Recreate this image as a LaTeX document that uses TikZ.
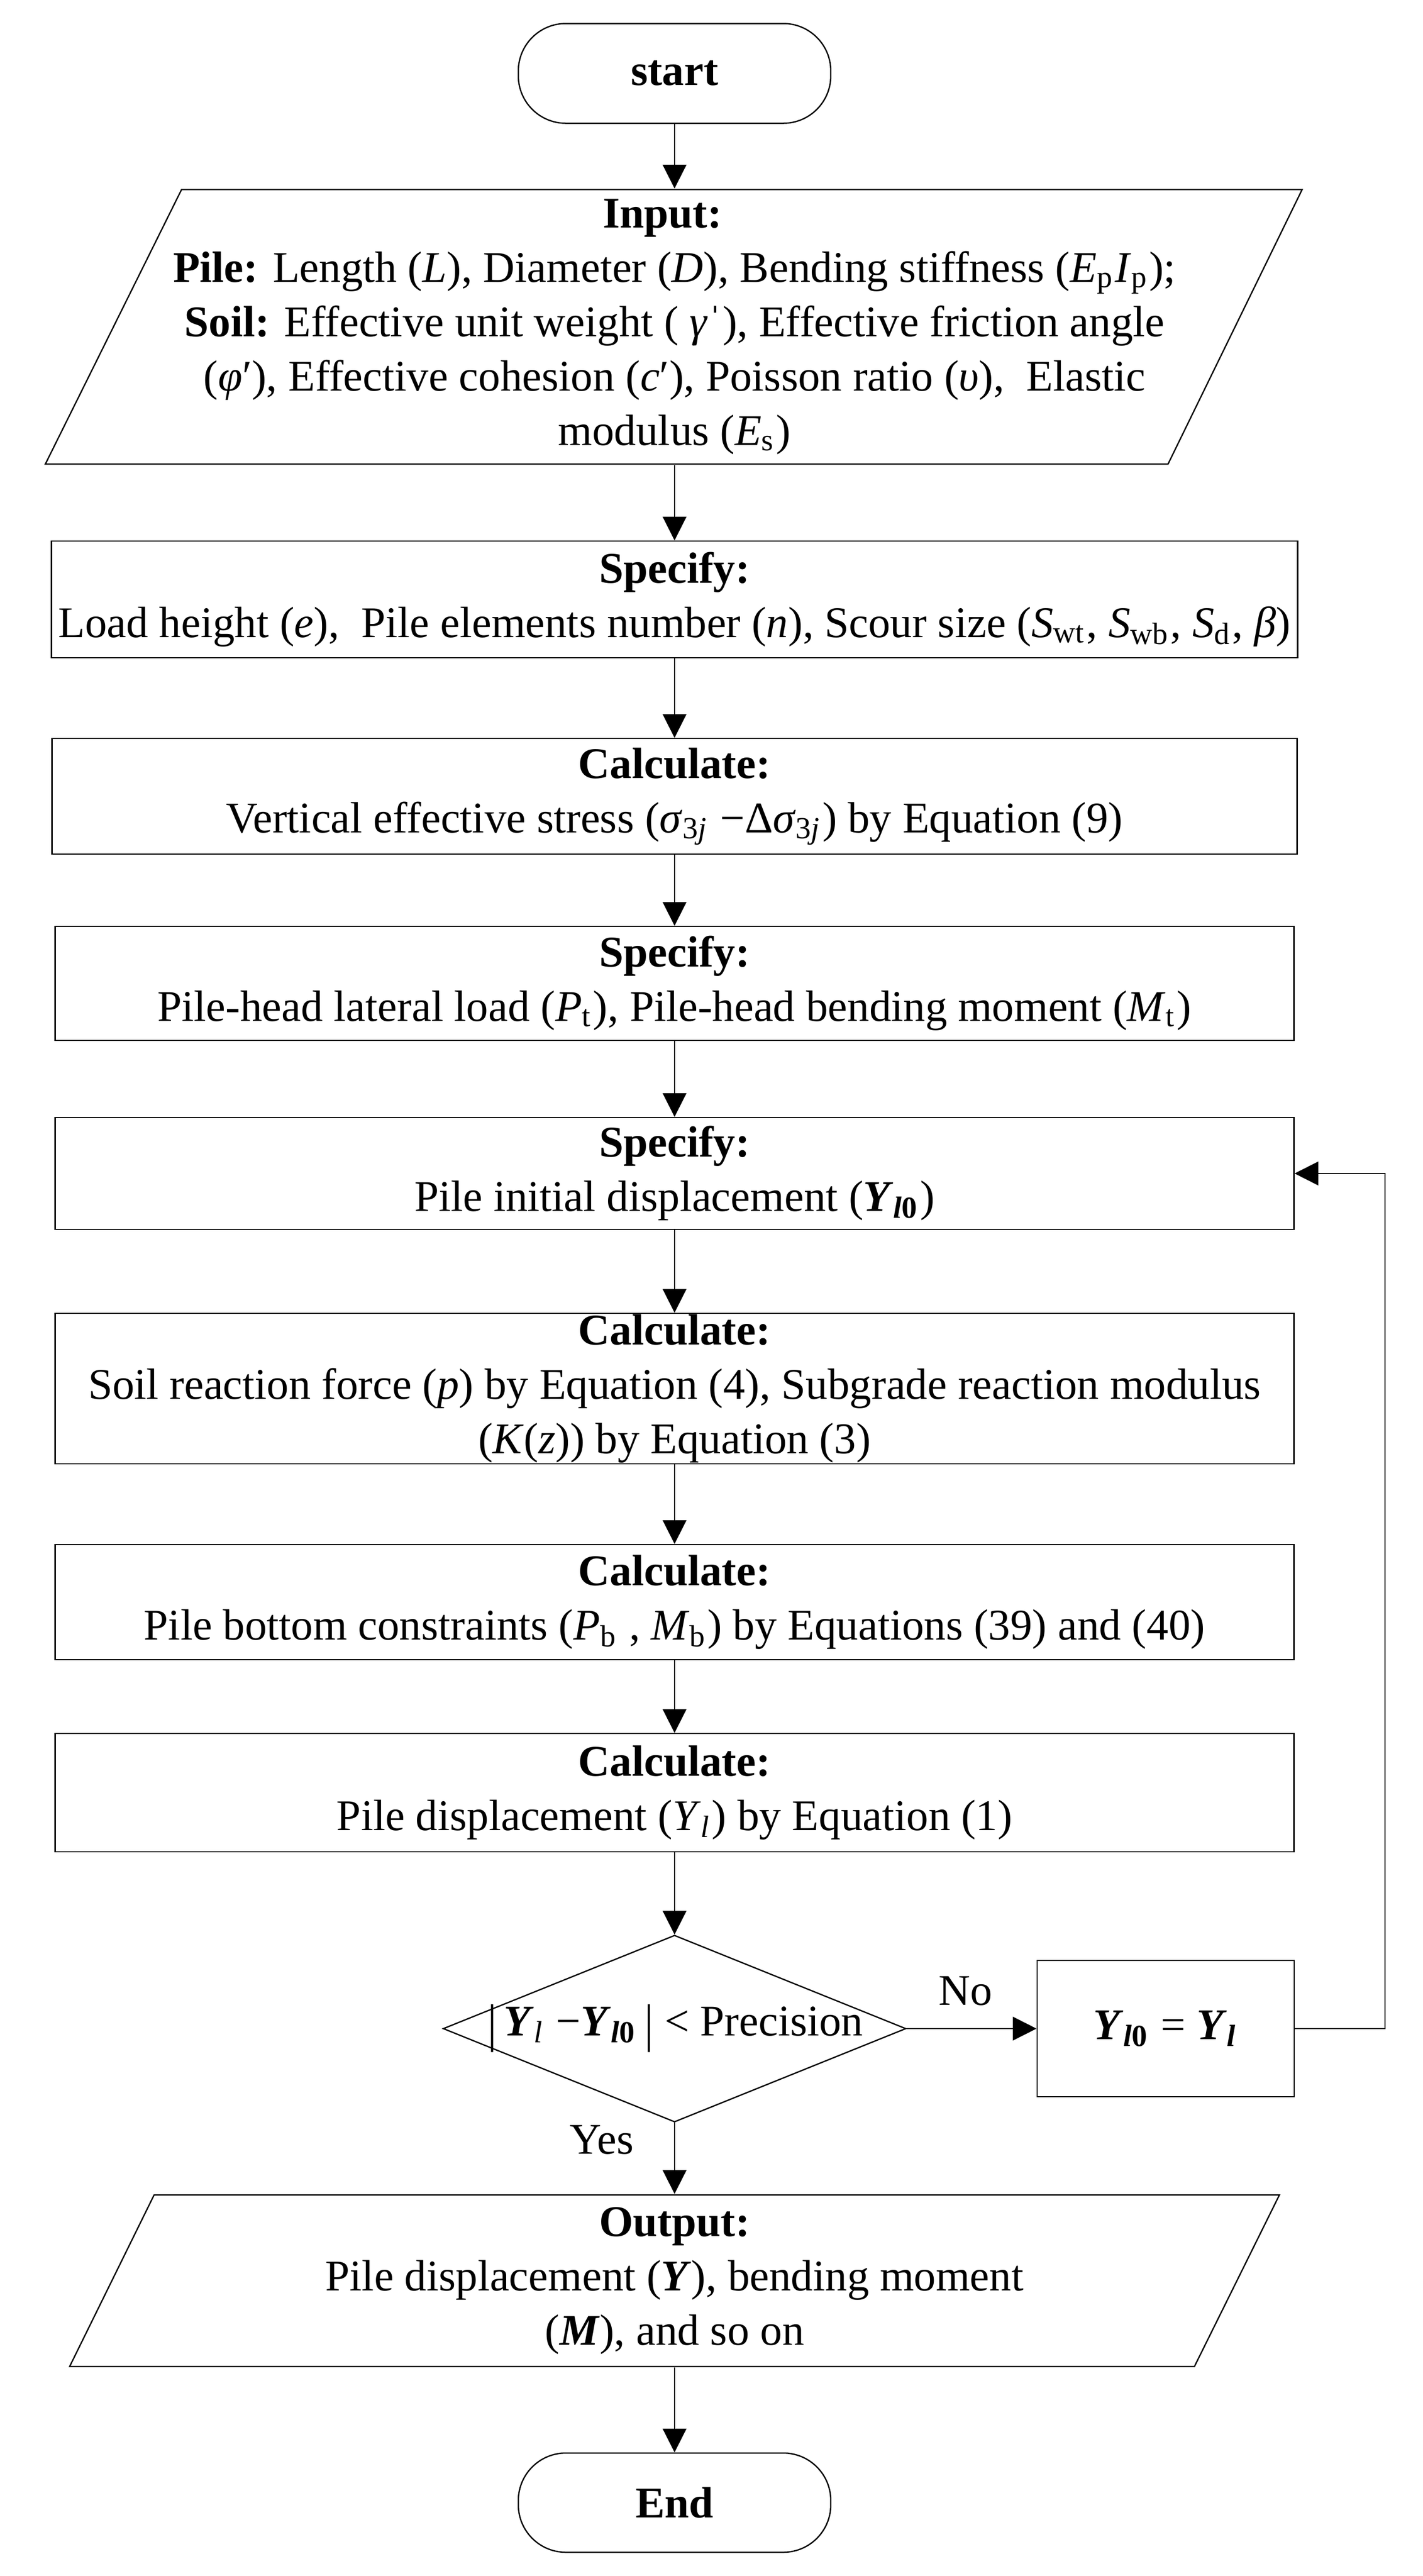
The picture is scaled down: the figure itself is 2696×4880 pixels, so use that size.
\documentclass[tikz,border=0pt]{standalone}
\usepackage{fontspec}
\setmainfont{Liberation Serif}
\usetikzlibrary{shapes.geometric,arrows.meta}
\begin{document}
\begin{tikzpicture}[x=0.1pt,y=-0.1pt,
  every node/.style={font=\fontsize{8.3pt}{10.3pt}\selectfont, inner sep=0pt, align=center},
  proc/.style={draw, line width=0.25pt, rectangle, minimum width=234.7pt},
  term/.style={draw, line width=0.25pt, rectangle, rounded corners=9pt, minimum width=59.2pt, minimum height=18.9pt},
  io/.style={rectangle, minimum width=200pt},
  shapeline/.style={line width=0.25pt},
  arr/.style={line width=0.2pt, -{Triangle[width=4.5pt,length=4.5pt]}}]
\useasboundingbox (0,0) rectangle (2696,4880);

% start
\node[term] (start) at (1278,139) {\textbf{start}};

% input
\node[io, minimum height=52pt] (input) at (1278,619)
 {\textbf{Input:}\hspace*{0.55em}\\
  \textbf{Pile:} Length (\textit{L}), Diameter (\textit{D}), Bending stiffness (\textit{E}\textsubscript{p}\textit{I}\textsubscript{p});\\
  \textbf{Soil:} Effective unit weight ( \textit{γ}ˈ), Effective friction angle\\
  (\textit{φ}′), Effective cohesion (\textit{c}′), Poisson ratio (\textit{υ}),\ \ Elastic\\
  modulus (\textit{E}\textsubscript{s})};
\draw[shapeline] (86,879) -- (344,359) -- (2467,359) -- (2213,879) -- cycle;

% boxes
\node[proc, minimum width=236.1pt, minimum height=22.1pt] (spec1) at (1278,1135.5)
 {\textbf{Specify:}\\
  Load height (\textit{e}),\ \ Pile elements number (\textit{n}), Scour size (\textit{S}\textsubscript{wt}, \textit{S}\textsubscript{wb}, \textit{S}\textsubscript{d}, \textit{β})};

\node[proc, minimum width=235.9pt, minimum height=21.9pt] (calc1) at (1278,1508.5)
 {\textbf{Calculate:}\\
  Vertical effective stress (\textit{σ}\textsubscript{3\textit{j}} −Δ\textit{σ}\textsubscript{3\textit{j}}) by Equation (9)};

\node[proc, minimum height=21.6pt] (spec2) at (1278,1863)
 {\textbf{Specify:}\\
  Pile-head lateral load (\textit{P}\textsubscript{t}), Pile-head bending moment (\textit{M}\textsubscript{t})};

\node[proc, minimum height=21.2pt] (spec3) at (1278,2223)
 {\textbf{Specify:}\\
  Pile initial displacement (\textbf{\textit{Y}}\textsubscript{\textbf{\textit{l}0}})};

\node[proc, minimum height=28.5pt] (calc2) at (1278,2630.5)
 {\textbf{Calculate:}\\
  Soil reaction force (\textit{p}) by Equation (4), Subgrade reaction modulus\\
  (\textit{K}(\textit{z})) by Equation (3)};

\node[proc, minimum height=21.8pt] (calc3) at (1278,3035)
 {\textbf{Calculate:}\\
  Pile bottom constraints (\textit{P}\textsubscript{b} , \textit{M}\textsubscript{b}) by Equations (39) and (40)};

\node[proc, minimum height=22.4pt] (calc4) at (1278,3396)
 {\textbf{Calculate:}\\
  Pile displacement (\textit{Y}\textsubscript{\textit{l}}) by Equation (1)};

% decision
\node[draw, diamond, shapeline, aspect=2.48, minimum width=87.7pt, minimum height=35.4pt] (dec) at (1278,3843) {};
\node (dectext) at (1280,3843)
 {\raisebox{-0.12em}{\scalebox{1}[1.2]{|}}\,\textbf{\textit{Y}}\textsubscript{\textit{l}} −\textbf{\textit{Y}}\textsubscript{\textbf{\textit{l}0}}\,\raisebox{-0.12em}{\scalebox{1}[1.2]{|}} < Precision};

\node[draw, shapeline, rectangle, minimum width=48.7pt, minimum height=25.8pt] (ybox) at (2208.5,3843)
 {\textbf{\textit{Y}}\textsubscript{\textbf{\textit{l}0}} = \textbf{\textit{Y}}\textsubscript{\textbf{\textit{l}}}};

\node[anchor=base] (nolbl) at (1829,3798) {No};
\node[anchor=base] (yeslbl) at (1140,4080) {Yes};

% output
\node[io, minimum height=32.5pt] (output) at (1278,4320.5)
 {\textbf{Output:}\\
  Pile displacement (\textbf{\textit{Y}}), bending moment\\
  (\textbf{\textit{M}}), and so on};
\draw[shapeline] (132,4483) -- (292,4158) -- (2424,4158) -- (2263,4483) -- cycle;

% end
\node[term, minimum height=18.8pt] (finish) at (1278,4741) {\textbf{End}};

% connectors
\draw[arr] (start.south) -- (input.north);
\draw[arr] (input.south) -- (spec1.north);
\draw[arr] (spec1.south) -- (calc1.north);
\draw[arr] (calc1.south) -- (spec2.north);
\draw[arr] (spec2.south) -- (spec3.north);
\draw[arr] (spec3.south) -- (calc2.north);
\draw[arr] (calc2.south) -- (calc3.north);
\draw[arr] (calc3.south) -- (calc4.north);
\draw[arr] (calc4.south) -- (dec.north);
\draw[arr] (dec.east) -- (ybox.west);
\coordinate (loopc) at (2624,3843);
\draw[arr] (ybox.east) -- (loopc) |- (spec3.east);
\draw[arr] (dec.south) -- (output.north);
\draw[arr] (output.south) -- (finish.north);
\end{tikzpicture}
\end{document}
